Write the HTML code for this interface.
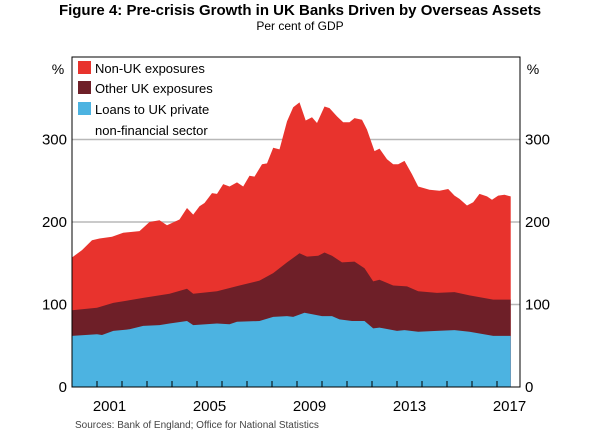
<!DOCTYPE html>
<html><head><meta charset="utf-8"><style>
body{margin:0;background:#fff;width:600px;height:433px;overflow:hidden;font-family:"Liberation Sans",Arial,sans-serif}
</style></head><body>
<svg id="c" width="600" height="433" xmlns="http://www.w3.org/2000/svg" font-family="Liberation Sans, Arial, sans-serif">
<text x="300" y="15" text-anchor="middle" font-size="15" font-weight="bold">Figure 4: Pre-crisis Growth in UK Banks Driven by Overseas Assets</text>
<text x="300" y="30" text-anchor="middle" font-size="12">Per cent of GDP</text>
<g id="grid"></g>
<g id="areas"></g>
<rect x="72" y="57" width="448" height="330" fill="none" stroke="#000" stroke-width="1"/>
<g id="axes" font-size="15"></g>
<text x="58" y="74" text-anchor="middle" font-size="14">%</text>
<text x="533" y="74" text-anchor="middle" font-size="14">%</text>
<g font-size="13">
<g><rect x="78" y="61" width="13" height="13" fill="#e8332d"/><text x="95" y="73">Non-UK exposures</text></g>
<g><rect x="78" y="81" width="13" height="13" fill="#6e1f28"/><text x="95" y="93">Other UK exposures</text></g>
<g><rect x="78" y="102" width="13" height="13" fill="#4cb3e1"/><text x="95" y="114">Loans to UK private</text><text x="95" y="135">non-financial sector</text></g>
</g>
<text x="75" y="428" font-size="10" fill="#444">Sources:   Bank of England; Office for National Statistics</text>
</svg>
<script>
// stacked layer tops (per cent of GDP)
const totalDates=[2000.0,2000.4,2000.8,2001.1,2001.6,2002.05,2002.7,2003.1,2003.5,2003.8,2004.3,2004.6,2004.85,2005.1,2005.3,2005.6,2005.8,2006.05,2006.3,2006.6,2006.85,2007.1,2007.3,2007.6,2007.8,2008.05,2008.3,2008.6,2008.85,2009.1,2009.35,2009.6,2009.8,2010.1,2010.3,2010.6,2010.85,2011.1,2011.3,2011.6,2011.8,2012.1,2012.3,2012.6,2012.85,2013.05,2013.3,2013.6,2013.85,2014.3,2014.7,2015.05,2015.3,2015.5,2015.8,2016.05,2016.3,2016.6,2016.8,2017.05,2017.3,2017.55];
const totalValues=[157,166,178,180,182,187,189,200,202,196,203,217,209,219,223,235,234,246,243,248,243,256,255,270,271,290,288,322,339,345,323,327,320,340,338,328,321,321,326,324,312,286,289,276,270,270,274,258,243,239,238,240,232,228,220,224,234,231,227,232,233,231];
const otherDates=[2000.0,2001.0,2001.65,2002.85,2003.9,2004.6,2004.85,2005.8,2006.7,2007.5,2008.05,2008.6,2009.1,2009.4,2009.85,2010.1,2010.4,2010.8,2011.3,2011.7,2012.05,2012.3,2012.85,2013.4,2013.85,2014.6,2015.3,2015.9,2016.85,2017.55];
const otherTopValues=[93,96,102,108,113,119,113,116,123,129,138,151,162,158,159,163,159,151,152,144,128,130,123,122,116,114,115,111,106,106];
const loanDates=[2000.0,2001.0,2001.2,2001.65,2002.3,2002.85,2003.5,2003.9,2004.6,2004.85,2005.8,2006.3,2006.6,2007.5,2008.05,2008.6,2008.85,2009.3,2010.0,2010.4,2010.7,2011.2,2011.7,2012.05,2012.3,2013.0,2013.3,2013.85,2014.6,2015.3,2015.9,2016.85,2017.55];
const loanValues=[62,64,63,68,70,74,75,77,80,75,77,76,79,80,85,86,85,90,86,86,82,80,80,71,72,68,69,67,68,69,67,62,62];
const yTicks=[0,100,200,300];
const xTickLabels=[2001,2005,2009,2013,2017];

const NS="http://www.w3.org/2000/svg";
const X0=72,X1=520,Y0=387,Y1=57;
const xs=t=>X0+(t-2000)*(X1-X0)/17.92;
const ys=v=>Y0-v*(Y0-Y1)/400;
function area(dates,vals,color,name){
  let d=`M${xs(dates[0])},${Y0}`;
  dates.forEach((t,i)=>d+=`L${xs(t).toFixed(1)},${ys(vals[i]).toFixed(1)}`);
  d+=`L${xs(dates[dates.length-1])},${Y0}Z`;
  const p=document.createElementNS(NS,'path');
  p.setAttribute('d',d);p.setAttribute('fill',color);
  
  
  document.getElementById('areas').appendChild(p);
}
area(totalDates,totalValues,'#e8332d','area-non-uk-exposures');
area(otherDates,otherTopValues,'#6e1f28','area-other-uk-exposures');
area(loanDates,loanValues,'#4cb3e1','area-loans-uk-private');
const grid=document.getElementById('grid'),axes=document.getElementById('axes');
yTicks.forEach(v=>{
  const y=ys(v);
  if(v>0){
    const l=document.createElementNS(NS,'line');
    l.setAttribute('x1',X0);l.setAttribute('x2',X1);l.setAttribute('y1',y);l.setAttribute('y2',y);
    l.setAttribute('stroke','#b8b8b8');l.setAttribute('stroke-width','1.5');
    
    
    grid.appendChild(l);
  }
  [[X0-5,'end','left'],[X1+5,'start','right']].forEach(([x,a,s])=>{
    const t=document.createElementNS(NS,'text');
    t.setAttribute('x',x);t.setAttribute('y',y+5);t.setAttribute('text-anchor',a);t.textContent=v;
    
    
    axes.appendChild(t);
  });
});
for(let yr=2001;yr<=2017;yr++){
  const l=document.createElementNS(NS,'line');
  const x=xs(yr);
  l.setAttribute('x1',x);l.setAttribute('x2',x);l.setAttribute('y1',Y0);l.setAttribute('y2',Y0-6);
  l.setAttribute('stroke','#000');
  
  
  axes.appendChild(l);
}
xTickLabels.forEach(yr=>{
  const t=document.createElementNS(NS,'text');
  t.setAttribute('x',xs(yr+0.5));t.setAttribute('y',411);t.setAttribute('text-anchor','middle');t.textContent=yr;
  
  
  axes.appendChild(t);
});
</script>
</body></html>
